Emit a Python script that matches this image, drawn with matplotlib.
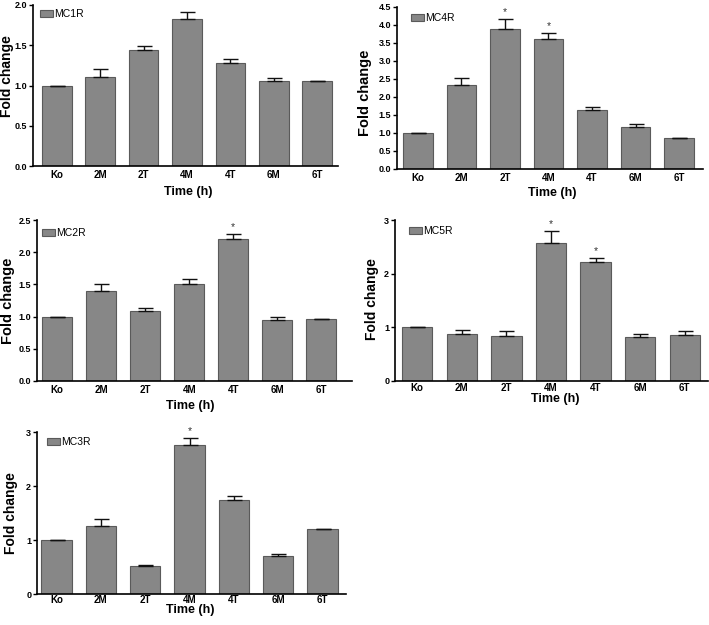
import matplotlib
matplotlib.use("Agg")
import matplotlib.pyplot as plt
import numpy as np

plt.rcParams['font.family'] = ['Liberation Sans', 'DejaVu Sans']

categories = ["Ko", "2M", "2T", "4M", "4T", "6M", "6T"]

mc1r = [1.00, 1.10, 1.44, 1.82, 1.28, 1.05, 1.05]
mc1r_err = [0.00, 0.10, 0.05, 0.09, 0.05, 0.04, 0.01]
mc1r_star = [False] * 7

mc4r = [1.01, 2.33, 3.89, 3.62, 1.64, 1.18, 0.86]
mc4r_err = [0.00, 0.21, 0.27, 0.16, 0.07, 0.07, 0.01]
mc4r_star = [False, False, True, True, False, False, False]

mc2r = [1.00, 1.39, 1.08, 1.51, 2.20, 0.95, 0.96]
mc2r_err = [0.00, 0.12, 0.05, 0.08, 0.09, 0.05, 0.01]
mc2r_star = [False, False, False, False, True, False, False]

mc5r = [1.00, 0.87, 0.83, 2.58, 2.21, 0.82, 0.85]
mc5r_err = [0.00, 0.08, 0.10, 0.21, 0.08, 0.05, 0.09]
mc5r_star = [False, False, False, True, True, False, False]

mc3r = [1.00, 1.26, 0.51, 2.76, 1.74, 0.71, 1.20]
mc3r_err = [0.00, 0.12, 0.03, 0.13, 0.07, 0.04, 0.01]
mc3r_star = [False, False, False, True, False, False, False]

W, H = 709, 625
fig = plt.figure(figsize=(W / 100, H / 100), dpi=100)

def make_axes(left, top, right, bottom):
    return fig.add_axes([left / W, 1 - bottom / H, (right - left) / W, (bottom - top) / H])

def fx(px):
    return px / W

def fy(py):
    return 1 - py / H

# name, values, errors, stars, axes box (px), xlim, ymax, yticks, fmt,
# legend pos (px), ylabel center (px), ylabel size, xlabel center (px), xtick pad
panels = [
    ("MC1R", mc1r, mc1r_err, mc1r_star, (33, 5, 338, 166), (-0.55, 6.48), 2.0,
     np.arange(0, 2.01, 0.5), "%.1f", (40, 9), (7.5, 76), 10.0, (188, 192), 2.6),
    ("MC4R", mc4r, mc4r_err, mc4r_star, (397, 7, 703, 169), (-0.48, 6.55), 4.5,
     np.arange(0, 4.51, 0.5), "%.1f", (411, 13), (365, 93), 10.5, (552, 193), 2.6),
    ("MC2R", mc2r, mc2r_err, mc2r_star, (37, 220, 352, 381), (-0.46, 6.7), 2.5,
     np.arange(0, 2.51, 0.5), "%.1f", (42, 228), (8, 301), 10.5, (190, 406), 2.6),
    ("MC5R", mc5r, mc5r_err, mc5r_star, (395, 220, 708, 381), (-0.5, 6.52), 3.0,
     np.arange(0, 3.01, 1), "%d", (409, 226), (372, 299), 10.0, (555, 399), 1.6),
    ("MC3R", mc3r, mc3r_err, mc3r_star, (37, 432, 346, 594), (-0.44, 6.53), 3.0,
     np.arange(0, 3.01, 1), "%d", (47, 437), (11, 513), 10.0, (190, 610), 0.8),
]

x = np.arange(len(categories))
for (name, vals, errs, stars, box, xlim, ymax, yt, fmt, legpos,
     ylpos, ylsize, xlpos, xpad) in panels:
    ax = make_axes(*box)
    ax.bar(x, vals, width=0.68, color="#878787", edgecolor="#5a5a5a",
           linewidth=0.8, label=name, zorder=2)
    ax.errorbar(x, vals, yerr=[np.zeros(len(vals)), errs], fmt="none",
                ecolor="#111111", elinewidth=1.0, capsize=5.4, capthick=1.0, zorder=3)
    for xi, v, e, s in zip(x, vals, errs, stars):
        if s:
            ax.text(xi, v + e + ymax * 0.012, "*", ha="center", va="bottom",
                    fontsize=7.5, color="#333333")
    ax.set_xlim(*xlim)
    ax.set_ylim(0, ymax)
    ax.set_yticks(yt)
    ax.set_yticklabels([fmt % t for t in yt], fontsize=6.5, fontweight="bold")
    ax.set_xticks(x)
    ax.set_xticklabels(categories, fontsize=7, fontweight="bold")
    ax.tick_params(axis="x", length=0, pad=xpad)
    ax.tick_params(axis="y", length=3, width=1, pad=1.2)
    for sp in ["top", "right"]:
        ax.spines[sp].set_visible(False)
    for sp in ["left", "bottom"]:
        ax.spines[sp].set_linewidth(1.2)
    fig.text(fx(ylpos[0]), fy(ylpos[1]), "Fold change", rotation=90,
             ha="center", va="center", fontsize=ylsize, fontweight="bold")
    fig.text(fx(xlpos[0]), fy(xlpos[1]), "Time (h)", ha="center", va="center",
             fontsize=9, fontweight="bold")
    lx = (legpos[0] - box[0]) / (box[2] - box[0])
    ly = 1 - (legpos[1] - box[1]) / (box[3] - box[1])
    ax.legend(loc="upper left", bbox_to_anchor=(lx, ly), frameon=False,
              fontsize=7.5, handlelength=1.25, handleheight=0.75, handletextpad=0.1,
              borderpad=0, borderaxespad=0)

fig.savefig("out.png", dpi=100)
